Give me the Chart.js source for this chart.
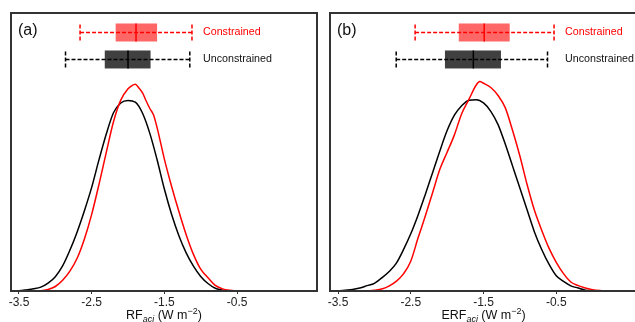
<!DOCTYPE html>
<html>
<head>
<meta charset="utf-8">
<script src="https://cdn.jsdelivr.net/npm/chart.js@4"></script>
<style>
  html, body { margin: 0; padding: 0; background: #fff; overflow: hidden; }
  #wrap { position: relative; width: 635px; height: 322px; overflow: hidden; }
  .panel { position: absolute; top: 0; }
  canvas { display: block; }
</style>
</head>
<body>
<div id="wrap">
  <div class="panel" style="left:0px"><canvas id="chartA" width="318" height="322"></canvas></div>
  <div class="panel" style="left:318px"><canvas id="chartB" width="322" height="322"></canvas></div>
</div>
<script>
// x-axis ticks (W m-2)
const xTicks = [-3.5, -2.5, -1.5, -0.5];

// panel (a) RFaci: density curves
const xUncA = [-3.6,-3.5,-3.4,-3.3,-3.2,-3.1,-3.0,-2.9,-2.8,-2.7,-2.6,-2.5,-2.4,-2.3,-2.2,-2.1,-2.0,-1.9,-1.8,-1.7,-1.6,-1.5,-1.4,-1.3,-1.2,-1.1,-1.0,-0.9,-0.8,-0.7,-0.6,-0.5];
const uncA  = [0.000,0.001,0.005,0.010,0.018,0.037,0.067,0.117,0.190,0.276,0.375,0.484,0.612,0.732,0.832,0.878,0.890,0.882,0.830,0.736,0.613,0.476,0.357,0.258,0.178,0.116,0.068,0.035,0.013,0.004,0.001,0.000];
const xConA = [-3.3,-3.2,-3.1,-3.0,-2.9,-2.8,-2.7,-2.6,-2.5,-2.4,-2.3,-2.2,-2.1,-2.0,-1.95,-1.9,-1.85,-1.8,-1.75,-1.7,-1.65,-1.6,-1.5,-1.4,-1.3,-1.2,-1.1,-1.0,-0.9,-0.8,-0.7,-0.6,-0.5];
const conA  = [0.000,0.001,0.007,0.021,0.050,0.093,0.153,0.243,0.358,0.497,0.646,0.790,0.891,0.944,0.958,0.965,0.948,0.925,0.887,0.852,0.823,0.763,0.616,0.488,0.371,0.263,0.171,0.102,0.062,0.026,0.010,0.003,0.000];

// panel (b) ERFaci
const xUncB = [-3.6,-3.5,-3.4,-3.3,-3.2,-3.1,-3.0,-2.9,-2.8,-2.7,-2.6,-2.5,-2.4,-2.3,-2.2,-2.1,-2.0,-1.9,-1.8,-1.7,-1.6,-1.5,-1.4,-1.3,-1.2,-1.1,-1.0,-0.9,-0.8,-0.7,-0.6,-0.5,-0.4,-0.3,-0.2,-0.1,0.0,0.1];
const uncB  = [0.000,0.001,0.004,0.007,0.014,0.025,0.036,0.061,0.090,0.129,0.193,0.267,0.354,0.451,0.552,0.654,0.749,0.821,0.865,0.891,0.893,0.878,0.839,0.777,0.685,0.583,0.481,0.378,0.276,0.194,0.125,0.071,0.045,0.024,0.014,0.004,0.001,0.000];
const xConB = [-3.1,-3.0,-2.9,-2.8,-2.7,-2.6,-2.5,-2.4,-2.3,-2.2,-2.1,-2.0,-1.9,-1.8,-1.7,-1.6,-1.55,-1.5,-1.4,-1.3,-1.2,-1.1,-1.0,-0.9,-0.8,-0.7,-0.6,-0.5,-0.4,-0.3,-0.2,-0.1,0.0,0.1,0.2];
const conB  = [0.000,0.004,0.009,0.023,0.045,0.080,0.139,0.247,0.350,0.459,0.568,0.648,0.729,0.828,0.895,0.962,0.978,0.970,0.950,0.913,0.855,0.749,0.630,0.496,0.377,0.284,0.200,0.134,0.081,0.042,0.025,0.014,0.006,0.002,0.000];

// box plots: [whisker low, q1, median, q3, whisker high]
const boxConA = [-2.66, -2.17, -1.89, -1.60, -1.12];
const boxUncA = [-2.86, -2.32, -2.00, -1.69, -1.15];
const boxConB = [-2.44, -1.84, -1.49, -1.14, -0.53];
const boxUncB = [-2.70, -2.03, -1.64, -1.26, -0.62];

const FONT = "'Liberation Sans', Arial, sans-serif";
const yMax = 1.298;

function toPts(xs, ys) {
    return xs.map((x, i) => ({ x: x, y: ys[i] }));
}

// frame round the plot area
const framePlugin = {
    id: 'frame',
    afterDraw(chart) {
        const a = chart.chartArea, ctx = chart.ctx;
        ctx.save();
        ctx.strokeStyle = '#333';
        ctx.lineWidth = 2;
        ctx.strokeRect(a.left, a.top, a.right - a.left, a.bottom - a.top);
        ctx.restore();
    }
};

// box plots, panel letter and the axis title with sub/superscript
const extrasPlugin = {
    id: 'extras',
    afterDatasetsDraw(chart, args, opts) {
        const ctx = chart.ctx, xs = chart.scales.x, ys = chart.scales.y, a = chart.chartArea;
        const rows = [
            { s: opts.con, level: 1.207, line: '#ff0000', fill: 'rgba(255,0,0,0.6)', text: '#ff0000', label: 'Constrained' },
            { s: opts.unc, level: 1.081, line: '#000000', fill: 'rgba(0,0,0,0.75)', text: '#111111', label: 'Unconstrained' }
        ];
        const labelX = xs.getPixelForValue(opts.con[4]) + 11;
        ctx.save();
        rows.forEach(r => {
            const yc = ys.getPixelForValue(r.level);
            const px = r.s.map(v => xs.getPixelForValue(v));
            // dashed whisker line and caps
            ctx.setLineDash([4, 2]);
            ctx.lineWidth = 1.5;
            ctx.strokeStyle = r.line;
            ctx.beginPath();
            ctx.moveTo(px[0], yc); ctx.lineTo(px[4], yc);
            ctx.moveTo(px[0], yc - 8); ctx.lineTo(px[0], yc + 8);
            ctx.moveTo(px[4], yc - 8); ctx.lineTo(px[4], yc + 8);
            ctx.stroke();
            ctx.setLineDash([]);
            // box
            ctx.fillStyle = r.fill;
            ctx.fillRect(px[1], yc - 9, px[3] - px[1], 18);
            // median
            ctx.beginPath();
            ctx.moveTo(px[2], yc - 9); ctx.lineTo(px[2], yc + 9);
            ctx.stroke();
            // label
            ctx.fillStyle = r.text;
            ctx.font = '10.7px ' + FONT;
            ctx.textBaseline = 'middle';
            ctx.textAlign = 'left';
            ctx.fillText(r.label, labelX, yc);
        });

        // panel letter
        ctx.fillStyle = '#111';
        ctx.font = '16px ' + FONT;
        ctx.textBaseline = 'middle';
        ctx.fillText(opts.letter, a.left + 7, a.top + 18);

        // axis title
        const parts = [
            { t: opts.title, f: '12.5px ' + FONT, dy: 0 },
            { t: 'aci', f: 'italic 9px ' + FONT, dy: 2.5 },
            { t: ' (W m', f: '12.5px ' + FONT, dy: 0 },
            { t: '\u22122', f: '9px ' + FONT, dy: -5 },
            { t: ')', f: '12.5px ' + FONT, dy: 0 }
        ];
        let total = 0;
        parts.forEach(p => { ctx.font = p.f; p.w = ctx.measureText(p.t).width; total += p.w; });
        let x = (a.left + a.right) / 2 - total / 2;
        const base = 319;
        ctx.textBaseline = 'alphabetic';
        parts.forEach(p => {
            ctx.font = p.f;
            ctx.fillText(p.t, x, base + p.dy);
            x += p.w;
        });
        ctx.restore();
    }
};

function makeChart(id, cfg) {
    return new Chart(document.getElementById(id), {
        type: 'scatter',
        data: {
            datasets: [
                {
                    label: 'Constrained',
                    data: toPts(cfg.xCon, cfg.con),
                    borderColor: '#ff0000',
                    borderWidth: 1.5,
                    showLine: true,
                    pointRadius: 0,
                    cubicInterpolationMode: 'monotone',
                    fill: false
                },
                {
                    label: 'Unconstrained',
                    data: toPts(cfg.xUnc, cfg.unc),
                    borderColor: '#000000',
                    borderWidth: 1.5,
                    showLine: true,
                    pointRadius: 0,
                    cubicInterpolationMode: 'monotone',
                    fill: false
                }
            ]
        },
        options: {
            responsive: false,
            animation: false,
            layout: { padding: { left: cfg.padLeft, right: cfg.padRight, top: 13, bottom: 0 } },
            plugins: {
                legend: { display: false },
                tooltip: { enabled: false },
                extras: { con: cfg.boxCon, unc: cfg.boxUnc, letter: cfg.letter, title: cfg.title }
            },
            scales: {
                x: {
                    type: 'linear',
                    min: cfg.xMin,
                    max: cfg.xMax,
                    afterBuildTicks: s => { s.ticks = xTicks.map(v => ({ value: v })); },
                    afterFit: s => { s.height = 31; },
                    ticks: {
                        callback: v => Number(v).toFixed(1),
                        font: { family: FONT, size: 12 },
                        color: '#222',
                        padding: 1,
                        maxRotation: 0,
                        autoSkip: false
                    },
                    grid: { drawOnChartArea: false, drawTicks: true, tickLength: 3, color: '#333', lineWidth: 1 },
                    border: { display: true, color: '#333', width: 2 }
                },
                y: { display: false, min: 0, max: yMax }
            }
        },
        plugins: [extrasPlugin, framePlugin]
    });
}

makeChart('chartA', {
    xUnc: xUncA, unc: uncA, xCon: xConA, con: conA,
    boxCon: boxConA, boxUnc: boxUncA,
    letter: '(a)', title: 'RF', padLeft: 11, padRight: 1,
    xMin: -3.61, xMax: 0.60
});
makeChart('chartB', {
    xUnc: xUncB, unc: uncB, xCon: xConB, con: conB,
    boxCon: boxConB, boxUnc: boxUncB,
    letter: '(b)', title: 'ERF', padLeft: 12, padRight: 3,
    xMin: -3.61, xMax: 0.61
});
</script>
</body>
</html>
